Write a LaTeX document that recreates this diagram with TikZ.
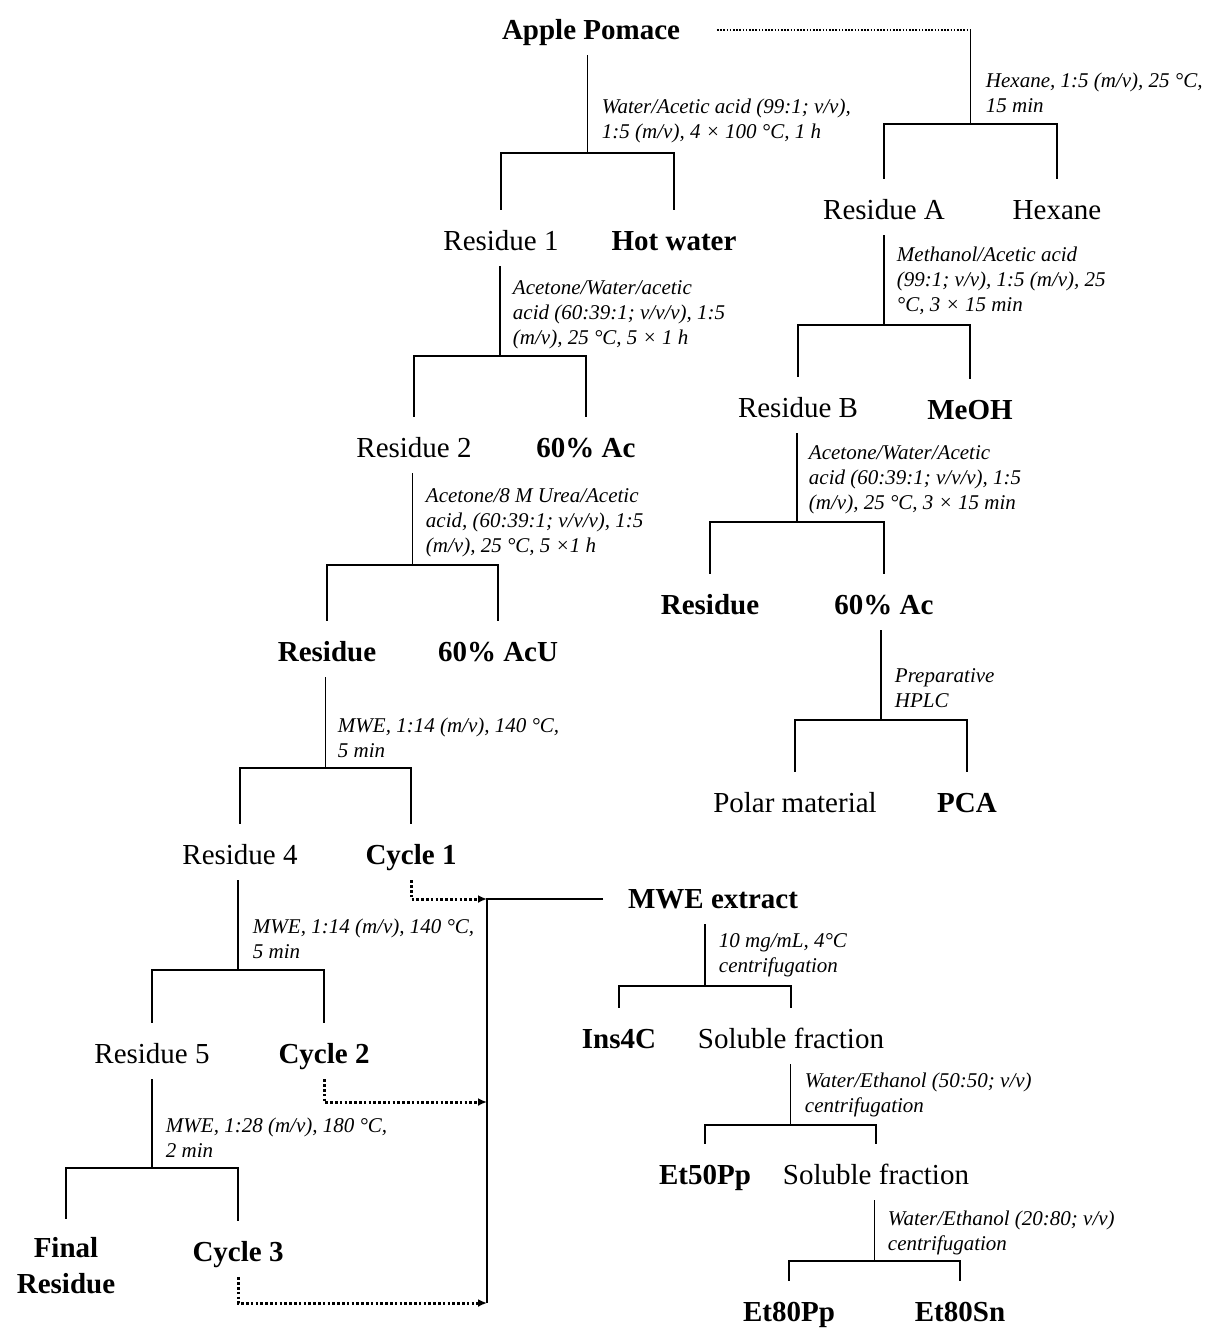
\documentclass[tikz,border=0pt]{standalone}
\usepackage{fontspec}
\setmainfont{Liberation Serif}
\usetikzlibrary{arrows.meta,calc}

\newcommand\sepfork[4]{%
\path ($(#2.north)!0.5!(#3.north)$) coordinate (m);
\draw (m |- #1.south) -- (m |- 0,#4) coordinate (b);
\draw ([yshift=6pt]#2.north) |- (b) -| ([yshift=6pt]#3.north);
}

\begin{document}
\begin{tikzpicture}[x=1pt,y=-1pt,line width=1.9pt,
  lbl/.style={font=\fontsize{29}{34}\selectfont, text height=22pt, text depth=3pt, inner xsep=2pt, inner ysep=12pt},
  blbl/.style={lbl, font=\fontsize{29}{34}\selectfont\bfseries},
  note/.style={anchor=north west, inner sep=0pt, align=left, font=\fontsize{21}{25}\selectfont\itshape},
  cyc/.style={line width=3pt, dash pattern=on 2.6pt off 2.2pt},
  topdots/.style={line width=1.8pt, dash pattern=on 1.6pt off 1.6pt},
  cycarr/.style={cyc, -{Latex[length=9pt,width=8pt]}}]
\useasboundingbox (0,0) rectangle (1207,1329);

\node[blbl] (ap) at (591,30) {Apple Pomace};
\node[lbl] (res1) at (501,241) {Residue 1};
\node[blbl] (hw) at (674,241) {Hot water};
\node[lbl] (res2) at (414,448) {Residue 2};
\node[blbl] (ac60) at (586,448) {60\% Ac};
\node[blbl] (resU) at (327,652) {Residue};
\node[blbl] (acu) at (498,652) {60\% AcU};
\node[lbl] (res4) at (240,855) {Residue 4};
\node[blbl] (cy1) at (411,855) {Cycle 1};
\node[lbl] (res5) at (152,1054) {Residue 5};
\node[blbl] (cy2) at (324,1054) {Cycle 2};
\node[blbl, align=center, text height=, text depth=, font=\fontsize{29}{36}\selectfont\bfseries] (fin) at (66,1266) {Final\\Residue};
\node[blbl] (cy3) at (238,1252) {Cycle 3};

\node[blbl] (mwe) at (713,899) {MWE extract};
\node[blbl] (ins) at (619,1039) {Ins4C};
\node[lbl] (sol1) at (791,1039) {Soluble fraction};
\node[blbl] (et50) at (705,1175) {Et50Pp};
\node[lbl] (sol2) at (876,1175) {Soluble fraction};
\node[blbl] (et80p) at (789,1312) {Et80Pp};
\node[blbl] (et80s) at (960,1312) {Et80Sn};

\node[lbl] (resA) at (884,210) {Residue A};
\node[lbl] (hex) at (1057,210) {Hexane};
\node[lbl] (resB) at (798,408) {Residue B};
\node[blbl] (meoh) at (970,410) {MeOH};
\node[blbl] (resR) at (710,605) {Residue};
\node[blbl] (ac60b) at (884,605) {60\% Ac};
\node[lbl] (polar) at (795,803) {Polar material};
\node[blbl] (pca) at (967,803) {PCA};

\foreach \p/\l/\r/\y in {ap/res1/hw/153, res1/res2/ac60/356, res2/resU/acu/565,
  resU/res4/cy1/768, res4/res5/cy2/970, res5/fin/cy3/1168,
  mwe/ins/sol1/986, sol1/et50/sol2/1125, sol2/et80p/et80s/1261,
  resA/resB/meoh/325, resB/resR/ac60b/522, ac60b/polar/pca/720}
  \sepfork{\p}{\l}{\r}{\y};

\path ($(resA.north)!0.5!(hex.north)$) coordinate (m);
\draw[topdots] ([xshift=34pt]ap.east) -- (m |- ap.east) coordinate (hc);
\draw (hc) -- (m |- 0,124) coordinate (b);
\draw ([yshift=6pt]resA.north) |- (b) -| ([yshift=6pt]hex.north);

\coordinate (j1) at (487,899);
\coordinate (j2) at (487,1102);
\coordinate (j3) at (487,1303);
\draw ([xshift=-22pt]mwe.west) -| (j3);
\draw[cycarr] (cy1.south) |- (j1);
\draw[cycarr] (cy2.south) |- (j2);
\draw[cycarr] (cy3.south) |- (j3);

\node[note] at (601,98) {Water/Acetic acid (99:1; v/v),\\1:5 (m/v), 4 × 100 °C, 1 h};
\node[note] at (985,72) {Hexane, 1:5 (m/v), 25 °C,\\15 min};
\node[note] at (512,280) {Acetone/Water/acetic\\acid (60:39:1; v/v/v), 1:5\\(m/v), 25 °C, 5 × 1 h};
\node[note] at (425,488) {Acetone/8 M Urea/Acetic\\acid, (60:39:1; v/v/v), 1:5\\(m/v), 25 °C, 5 ×1 h};
\node[note] at (337,717) {MWE, 1:14 (m/v), 140 °C,\\5 min};
\node[note] at (252,918) {MWE, 1:14 (m/v), 140 °C,\\5 min};
\node[note] at (165,1117) {MWE, 1:28 (m/v), 180 °C,\\2 min};
\node[note] at (718,933) {10 mg/mL, 4°C\\centrifugation};
\node[note] at (804,1072) {Water/Ethanol (50:50; v/v)\\centrifugation};
\node[note] at (887,1210) {Water/Ethanol (20:80; v/v)\\centrifugation};
\node[note] at (896,246) {Methanol/Acetic acid\\(99:1; v/v), 1:5 (m/v), 25\\°C, 3 × 15 min};
\node[note] at (808,445) {Acetone/Water/Acetic\\acid (60:39:1; v/v/v), 1:5\\(m/v), 25 °C, 3 × 15 min};
\node[note] at (894,668) {Preparative\\HPLC};
\end{tikzpicture}
\end{document}
